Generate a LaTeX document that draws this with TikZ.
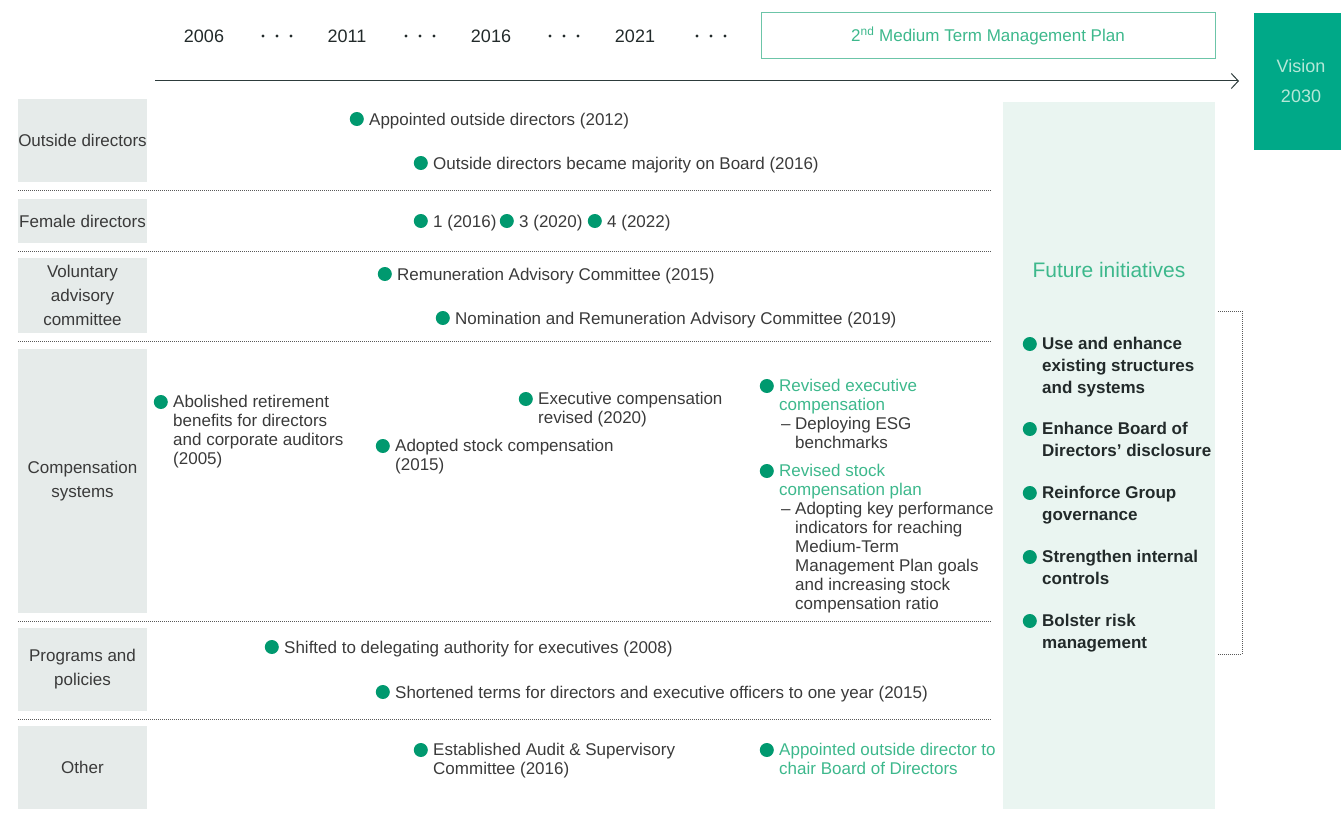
\documentclass[tikz,border=0pt]{standalone}
\usepackage{fontspec}
\setmainfont{Liberation Sans}
\usepackage{xcolor}
\usetikzlibrary{positioning, arrows.meta}

\definecolor{textgray}{HTML}{3A3A3A}
\definecolor{textdark}{HTML}{222A2A}
\definecolor{catgray}{HTML}{E6EBEA}
\definecolor{panelgreen}{HTML}{EAF5F1}
\definecolor{dotgreen}{HTML}{00996F}
\definecolor{textgreen}{HTML}{3DB88C}
\definecolor{visiongreen}{HTML}{00A988}
\definecolor{visiontext}{HTML}{B5E8D8}
\definecolor{boxborder}{HTML}{6CC5A8}
\definecolor{linedark}{HTML}{2D3B3B}

\begin{document}
\begin{tikzpicture}[
    x=1pt, y=-1pt,
    every node/.style={inner sep=0pt, text=textgray, font=\fontsize{17}{19}\selectfont},
    category/.style={fill=catgray, minimum width=129pt, align=center, font=\fontsize{17}{24}\selectfont},
    event/.style={anchor=north west, align=left, execute at begin node=\strut, yshift=7.3pt},
    note/.style={event, text=textgreen},
    dot/.style={circle, fill=dotgreen, minimum size=14pt, yshift=-7.3pt},
    goal/.style={anchor=north west, align=left, execute at begin node=\strut, yshift=6.9pt,
                 font=\bfseries\fontsize{17}{22}\selectfont, text=textdark},
    goaldot/.style={dot, yshift=0.4pt},
    year/.style={font=\fontsize{18}{20}\selectfont, text=textdark},
    sep/.style={draw=black!65, line width=0.8pt, dash pattern=on 0.8pt off 1.2pt},
    >={Straight Barb[length=7pt, width=15pt, line width=1pt]}
]
\useasboundingbox (0,0) rectangle (1341,832);

% timeline header
\node[year] (y2006) at (204,36) {2006};
\node[year] (y2011) at (347,36) {2011};
\node[year] (y2016) at (491,36) {2016};
\node[year] (y2021) at (635,36) {2021};
\foreach \x in {277,420,564,711}
  \foreach \dx in {-14,0,14}
    \fill[textdark] (\x+\dx,36) circle (1.7pt);

\node[draw=boxborder, line width=1pt, minimum width=454pt, minimum height=46pt,
      text=textgreen] (mtmp) at (988,36) {2\textsuperscript{nd} Medium Term Management Plan};
\node[fill=visiongreen, minimum width=94pt, minimum height=137pt, align=center,
      text=visiontext, font=\fontsize{18}{30}\selectfont] (vision) at (1301,81.5) {Vision\\2030};

\coordinate (tlstart) at (155,81);
\coordinate (tlend) at (1239,81);
\draw[->, draw=linedark, line width=1pt] (tlstart) -- (tlend);

% categories
\node[category, minimum height=83pt] (outside) at (82.5,140.5) {Outside directors};
\node[category, minimum height=44pt] (female) at (82.5,221) {Female directors};
\node[category, minimum height=75pt] (voluntary) at (82.5,295.5) {Voluntary\\advisory\\committee};
\node[category, minimum height=264pt] (comp) at (82.5,481) {Compensation\\systems};
\node[category, minimum height=83pt] (programs) at (82.5,669.5) {Programs and\\policies};
\node[category, minimum height=83pt] (other) at (82.5,767.5) {Other};

\foreach \y in {190,251,341,621,719}
  \draw[sep] (18,\y) -- (991,\y);

% future initiatives panel
\node[fill=panelgreen, minimum width=212pt, minimum height=707pt] (panel) at (1109,455.5) {};
\node[text=textgreen, font=\fontsize{21}{24}\selectfont] (future) at (1109,270) {Future initiatives};

\node[goal] (goal1) at (1042,344) {Use and enhance\\existing structures\\and systems};
\node[goal] (goal2) at (1042,429) {Enhance Board of\\Directors' disclosure};
\node[goal] (goal3) at (1042,493) {Reinforce Group\\governance};
\node[goal] (goal4) at (1042,557) {Strengthen internal\\controls};
\node[goal] (goal5) at (1042,621) {Bolster risk\\management};
\node[goaldot, left=5pt of goal1.north west] (dgoal1) {};
\node[goaldot, left=5pt of goal2.north west] (dgoal2) {};
\node[goaldot, left=5pt of goal3.north west] (dgoal3) {};
\node[goaldot, left=5pt of goal4.north west] (dgoal4) {};
\node[goaldot, left=5pt of goal5.north west] (dgoal5) {};

\coordinate (br1) at (1218,311);
\coordinate (br2) at (1242,311);
\coordinate (br3) at (1242,654);
\coordinate (br4) at (1218,654);
\draw[sep] (br1) -- (br2) -- (br3) -- (br4);

% events
\node[event] (app12) at (369,119) {Appointed outside directors (2012)};
\node[event] (maj16) at (433,163) {Outside directors became majority on Board (2016)};
\node[event] (fem16) at (433,221) {1 (2016)};
\node[event] (fem20) at (519,221) {3 (2020)};
\node[event] (fem22) at (607,221) {4 (2022)};
\node[event] (rac15) at (397,274) {Remuneration Advisory Committee (2015)};
\node[event] (nrac19) at (455,318) {Nomination and Remuneration Advisory Committee (2019)};
\node[event] (ret05) at (173,402) {Abolished retirement\\benefits for directors\\and corporate auditors\\(2005)};
\node[event] (stock15) at (395,446) {Adopted stock compensation\\(2015)};
\node[event] (exec20) at (538,399) {Executive compensation\\revised (2020)};
\node[note] (revexec) at (779,386) {Revised executive\\compensation};
\node[event] (esg) at (795,424) {\llap{– }Deploying ESG\\benchmarks};
\node[note] (revstock) at (779,471) {Revised stock\\compensation plan};
\node[event] (kpi) at (795,509) {\llap{– }Adopting key performance\\indicators for reaching\\Medium-Term\\Management Plan goals\\and increasing stock\\compensation ratio};
\node[event] (deleg08) at (284,647) {Shifted to delegating authority for executives (2008)};
\node[event] (terms15) at (395,692) {Shortened terms for directors and executive officers to one year (2015)};
\node[event] (audit16) at (433,750) {Established Audit \& Supervisory\\Committee (2016)};
\node[note] (chair) at (779,750) {Appointed outside director to\\chair Board of Directors};

\node[dot, left=5pt of app12.north west] (dapp12) {};
\node[dot, left=5pt of maj16.north west] (dmaj16) {};
\node[dot, left=5pt of fem16.north west] (dfem16) {};
\node[dot, left=5pt of fem20.north west] (dfem20) {};
\node[dot, left=5pt of fem22.north west] (dfem22) {};
\node[dot, left=5pt of rac15.north west] (drac15) {};
\node[dot, left=5pt of nrac19.north west] (dnrac19) {};
\node[dot, left=5pt of ret05.north west] (dret05) {};
\node[dot, left=5pt of stock15.north west] (dstock15) {};
\node[dot, left=5pt of exec20.north west] (dexec20) {};
\node[dot, left=5pt of revexec.north west] (drevexec) {};
\node[dot, left=5pt of revstock.north west] (drevstock) {};
\node[dot, left=5pt of deleg08.north west] (ddeleg08) {};
\node[dot, left=5pt of terms15.north west] (dterms15) {};
\node[dot, left=5pt of audit16.north west] (daudit16) {};
\node[dot, left=5pt of chair.north west] (dchair) {};

\end{tikzpicture}
\end{document}
